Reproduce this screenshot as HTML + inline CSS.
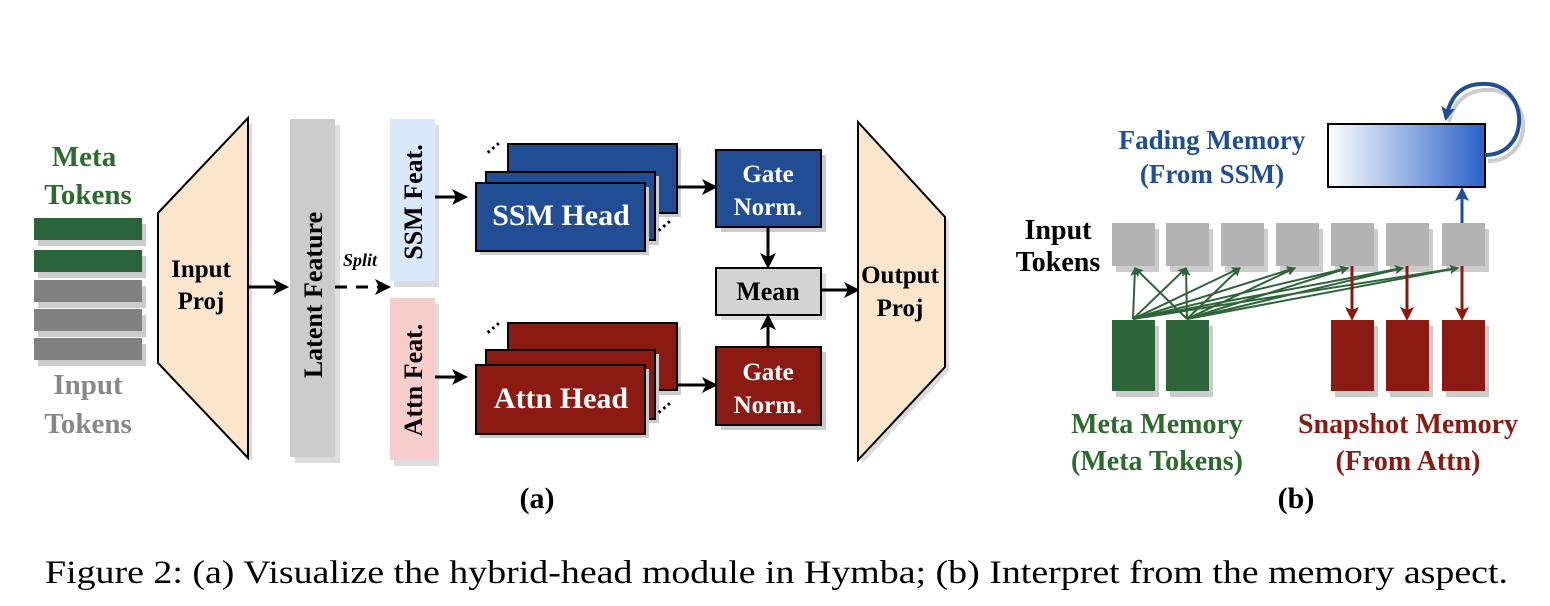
<!DOCTYPE html>
<html><head><meta charset="utf-8"><style>
html,body{margin:0;padding:0;background:#fff;}
svg{display:block;}
text{font-family:"Liberation Serif",serif;}
</style></head><body>
<svg width="1550" height="606" viewBox="0 0 1550 606" xmlns="http://www.w3.org/2000/svg">
<defs>
<marker id="ab" markerWidth="16" markerHeight="16" refX="13" refY="8" orient="auto" markerUnits="userSpaceOnUse"><path d="M0,0 L16,8 L0,16 L4,8 Z" fill="#000"/></marker>
<marker id="ag" markerWidth="9" markerHeight="9" refX="8" refY="4.5" orient="auto" markerUnits="userSpaceOnUse"><path d="M0,0 L9,4.5 L0,9 L2,4.5 Z" fill="#2d6439"/></marker>
<marker id="ar" markerWidth="14" markerHeight="14" refX="11" refY="7" orient="auto" markerUnits="userSpaceOnUse"><path d="M0,0 L14,7 L0,14 L3,7 Z" fill="#8b1a12"/></marker>
<marker id="abl" markerWidth="14" markerHeight="14" refX="11" refY="7" orient="auto" markerUnits="userSpaceOnUse"><path d="M0,0 L14,7 L0,14 L3,7 Z" fill="#1f4e96"/></marker>
<linearGradient id="fade" x1="0" x2="1" y1="0" y2="0"><stop offset="0" stop-color="#fff"/><stop offset="1" stop-color="#2a62c8"/></linearGradient>
</defs>

<g font-weight="bold" font-size="29" text-anchor="middle">
<text x="84" y="166" fill="#2d6a2d">Meta</text>
<text x="88" y="204" fill="#2d6a2d">Tokens</text>
<text x="88" y="394" fill="#888">Input</text>
<text x="88" y="433" fill="#888">Tokens</text>
</g>
<g fill="#ccc">
<rect x="38" y="224" width="108" height="22"/><rect x="38" y="256" width="108" height="22"/><rect x="38" y="286" width="108" height="22"/><rect x="38" y="315" width="108" height="22"/><rect x="38" y="344" width="108" height="22"/>
</g>
<rect x="34" y="218" width="108" height="22" fill="#2a643a"/>
<rect x="34" y="250" width="108" height="22" fill="#2a643a"/>
<rect x="34" y="280" width="108" height="22" fill="#808080"/>
<rect x="34" y="309" width="108" height="22" fill="#808080"/>
<rect x="34" y="338" width="108" height="22" fill="#808080"/>

<polygon points="162,217 252,122 252,462 162,367" fill="#ddd"/>
<polygon points="158,213 248,118 248,458 158,363" fill="#fbe5cd" stroke="#000" stroke-width="2"/>
<text x="201" y="277" font-size="25" font-weight="bold" text-anchor="middle">Input</text>
<text x="201" y="309" font-size="25" font-weight="bold" text-anchor="middle">Proj</text>
<line x1="248" y1="287" x2="286" y2="287" stroke="#000" stroke-width="3" marker-end="url(#ab)"/>

<rect x="295" y="125" width="45" height="338" fill="#ddd"/>
<rect x="290" y="119" width="45" height="338" fill="#ccc"/>
<text transform="translate(322,295) rotate(-90)" font-size="26" font-weight="bold" text-anchor="middle">Latent Feature</text>
<line x1="335" y1="287" x2="388" y2="287" stroke="#000" stroke-width="3" stroke-dasharray="12,9" marker-end="url(#ab)"/>
<text x="360" y="266" font-size="18" font-weight="bold" font-style="italic" text-anchor="middle">Split</text>

<rect x="394" y="125" width="45" height="162" fill="#ddd"/>
<rect x="390" y="119" width="45" height="162" fill="#dae8fc"/>
<text transform="translate(422,202) rotate(-90)" font-size="26" font-weight="bold" text-anchor="middle">SSM Feat.</text>
<rect x="394" y="304" width="45" height="162" fill="#ddd"/>
<rect x="390" y="298" width="45" height="162" fill="#f8cecc"/>
<text transform="translate(422,380) rotate(-90)" font-size="26" font-weight="bold" text-anchor="middle">Attn Feat.</text>
<line x1="435" y1="197" x2="465" y2="197" stroke="#000" stroke-width="3" marker-end="url(#ab)"/>
<line x1="435" y1="377" x2="465" y2="377" stroke="#000" stroke-width="3" marker-end="url(#ab)"/>

<g stroke="#000" stroke-width="2">
<rect x="512" y="148" width="169" height="69" fill="#ccc" stroke="none"/>
<rect x="508" y="144" width="169" height="69" fill="#214d94"/>
<rect x="490" y="176" width="169" height="69" fill="#ccc" stroke="none"/>
<rect x="486" y="172" width="169" height="68" fill="#214d94"/>
<rect x="480" y="187" width="169" height="68" fill="#ccc" stroke="none"/>
<rect x="476" y="183" width="169" height="68" fill="#214d94"/>
</g>
<text x="561" y="225" font-size="30" font-weight="bold" fill="#fff" text-anchor="middle">SSM Head</text>
<text x="490" y="158" font-size="18" font-weight="bold" transform="rotate(-40 490 158)">⋯</text>
<text x="661" y="236" font-size="18" font-weight="bold" transform="rotate(-40 661 236)">⋯</text>
<g stroke="#000" stroke-width="2">
<rect x="512" y="327" width="169" height="68" fill="#ccc" stroke="none"/>
<rect x="508" y="323" width="169" height="67" fill="#8b1a12"/>
<rect x="490" y="354" width="169" height="69" fill="#ccc" stroke="none"/>
<rect x="486" y="350" width="169" height="69" fill="#8b1a12"/>
<rect x="480" y="369" width="169" height="69" fill="#ccc" stroke="none"/>
<rect x="476" y="365" width="169" height="69" fill="#8b1a12"/>
</g>
<text x="561" y="408" font-size="30" font-weight="bold" fill="#fff" text-anchor="middle">Attn Head</text>
<text x="490" y="338" font-size="18" font-weight="bold" transform="rotate(-40 490 338)">⋯</text>
<text x="661" y="418" font-size="18" font-weight="bold" transform="rotate(-40 661 418)">⋯</text>

<line x1="677" y1="187" x2="715" y2="187" stroke="#000" stroke-width="3" marker-end="url(#ab)"/>
<line x1="677" y1="385" x2="715" y2="385" stroke="#000" stroke-width="3" marker-end="url(#ab)"/>

<rect x="721" y="155" width="105" height="77" fill="#ccc"/>
<rect x="716" y="150" width="105" height="77" fill="#214d94" stroke="#000" stroke-width="2"/>
<text x="768" y="182" font-size="25" font-weight="bold" fill="#fff" text-anchor="middle">Gate</text>
<text x="768" y="215" font-size="25" font-weight="bold" fill="#fff" text-anchor="middle">Norm.</text>
<line x1="768" y1="227" x2="768" y2="266" stroke="#000" stroke-width="3" marker-end="url(#ab)"/>
<rect x="721" y="273" width="105" height="47" fill="#ddd"/>
<rect x="716" y="268" width="105" height="47" fill="#d3d3d3" stroke="#000" stroke-width="2"/>
<text x="768" y="300" font-size="26" font-weight="bold" text-anchor="middle">Mean</text>
<line x1="768" y1="347" x2="768" y2="317" stroke="#000" stroke-width="3" marker-end="url(#ab)"/>
<rect x="721" y="352" width="105" height="78" fill="#ccc"/>
<rect x="716" y="347" width="105" height="78" fill="#8b1a12" stroke="#000" stroke-width="2"/>
<text x="768" y="380" font-size="25" font-weight="bold" fill="#fff" text-anchor="middle">Gate</text>
<text x="768" y="413" font-size="25" font-weight="bold" fill="#fff" text-anchor="middle">Norm.</text>
<line x1="821" y1="290" x2="857" y2="290" stroke="#000" stroke-width="3" marker-end="url(#ab)"/>

<polygon points="862,126 949,221 949,371 862,464" fill="#ddd"/>
<polygon points="858,122 945,217 945,367 858,460" fill="#fbe5cd" stroke="#000" stroke-width="2"/>
<text x="900" y="283" font-size="25" font-weight="bold" text-anchor="middle">Output</text>
<text x="900" y="316" font-size="25" font-weight="bold" text-anchor="middle">Proj</text>

<text x="537" y="508" font-size="30" font-weight="bold" text-anchor="middle">(a)</text>

<text x="1212" y="149" font-size="27" font-weight="bold" fill="#1f4e96" text-anchor="middle">Fading Memory</text>
<text x="1212" y="183" font-size="27" font-weight="bold" fill="#1f4e96" text-anchor="middle">(From SSM)</text>
<path d="M1485,157 C1530,157 1532,92 1490,86 C1462,84 1450,100 1446,118" fill="none" stroke="#ccc" stroke-width="4" transform="translate(3,4)"/>
<rect x="1328" y="124" width="157" height="63" fill="url(#fade)" stroke="#000" stroke-width="2"/>
<path d="M1485,155 C1530,155 1530,88 1488,84 C1460,82 1450,98 1446,118" fill="none" stroke="#1f4e96" stroke-width="4" marker-end="url(#abl)"/>
<line x1="1462" y1="223" x2="1462" y2="190" stroke="#1f4e96" stroke-width="3" marker-end="url(#abl)"/>

<text x="1058" y="239" font-size="28" font-weight="bold" text-anchor="middle">Input</text>
<text x="1058" y="271" font-size="28" font-weight="bold" text-anchor="middle">Tokens</text>
<g fill="#ccc">
<rect x="1116" y="229" width="43" height="43"/><rect x="1170" y="229" width="43" height="43"/><rect x="1225" y="229" width="43" height="43"/><rect x="1280" y="229" width="43" height="43"/><rect x="1335" y="229" width="43" height="43"/><rect x="1390" y="229" width="43" height="43"/><rect x="1446" y="229" width="43" height="43"/>
</g>
<g fill="#b3b3b3">
<rect x="1112" y="223" width="43" height="43"/><rect x="1166" y="223" width="43" height="43"/><rect x="1221" y="223" width="43" height="43"/><rect x="1276" y="223" width="43" height="43"/><rect x="1331" y="223" width="43" height="43"/><rect x="1386" y="223" width="43" height="43"/><rect x="1442" y="223" width="43" height="43"/>
</g>
<g fill="#ccc">
<rect x="1116" y="326" width="43" height="71"/><rect x="1170" y="326" width="43" height="71"/><rect x="1335" y="326" width="43" height="71"/><rect x="1390" y="326" width="43" height="71"/><rect x="1446" y="326" width="43" height="71"/>
</g>
<rect x="1112" y="320" width="43" height="71" fill="#2d6439"/>
<rect x="1166" y="320" width="43" height="71" fill="#2d6439"/>
<rect x="1331" y="320" width="43" height="71" fill="#8b1a12"/>
<rect x="1386" y="320" width="43" height="71" fill="#8b1a12"/>
<rect x="1442" y="320" width="43" height="71" fill="#8b1a12"/>

<g stroke="#2d6439" stroke-width="2" marker-end="url(#ag)">
<line x1="1133" y1="319" x2="1135" y2="268"/>
<line x1="1133" y1="319" x2="1186" y2="268"/>
<line x1="1133" y1="319" x2="1240" y2="268"/>
<line x1="1133" y1="319" x2="1295" y2="268"/>
<line x1="1133" y1="319" x2="1348" y2="268"/>
<line x1="1133" y1="319" x2="1403" y2="268"/>
<line x1="1133" y1="319" x2="1458" y2="268"/>
<line x1="1187" y1="319" x2="1135" y2="268"/>
<line x1="1187" y1="319" x2="1186" y2="268"/>
<line x1="1187" y1="319" x2="1240" y2="268"/>
<line x1="1187" y1="319" x2="1295" y2="268"/>
<line x1="1187" y1="319" x2="1348" y2="268"/>
<line x1="1187" y1="319" x2="1403" y2="268"/>
<line x1="1187" y1="319" x2="1458" y2="268"/>
</g>
<g stroke="#8b1a12" stroke-width="3" marker-end="url(#ar)">
<line x1="1352" y1="266" x2="1352" y2="318"/>
<line x1="1407" y1="266" x2="1407" y2="318"/>
<line x1="1462" y1="266" x2="1462" y2="318"/>
</g>

<text x="1157" y="433" font-size="28" font-weight="bold" fill="#2d6a2d" text-anchor="middle">Meta Memory</text>
<text x="1157" y="470" font-size="28" font-weight="bold" fill="#2d6a2d" text-anchor="middle">(Meta Tokens)</text>
<text x="1408" y="433" font-size="28" font-weight="bold" fill="#8b1a12" text-anchor="middle">Snapshot Memory</text>
<text x="1408" y="470" font-size="28" font-weight="bold" fill="#8b1a12" text-anchor="middle">(From Attn)</text>
<text x="1296" y="508" font-size="30" font-weight="bold" text-anchor="middle">(b)</text>

<text x="45" y="583" font-size="33" textLength="1463" lengthAdjust="spacingAndGlyphs">Figure 2: (a) Visualize the hybrid-head module in Hymba; (b) Interpret from the memory aspect.</text>
</svg>
</body></html>
